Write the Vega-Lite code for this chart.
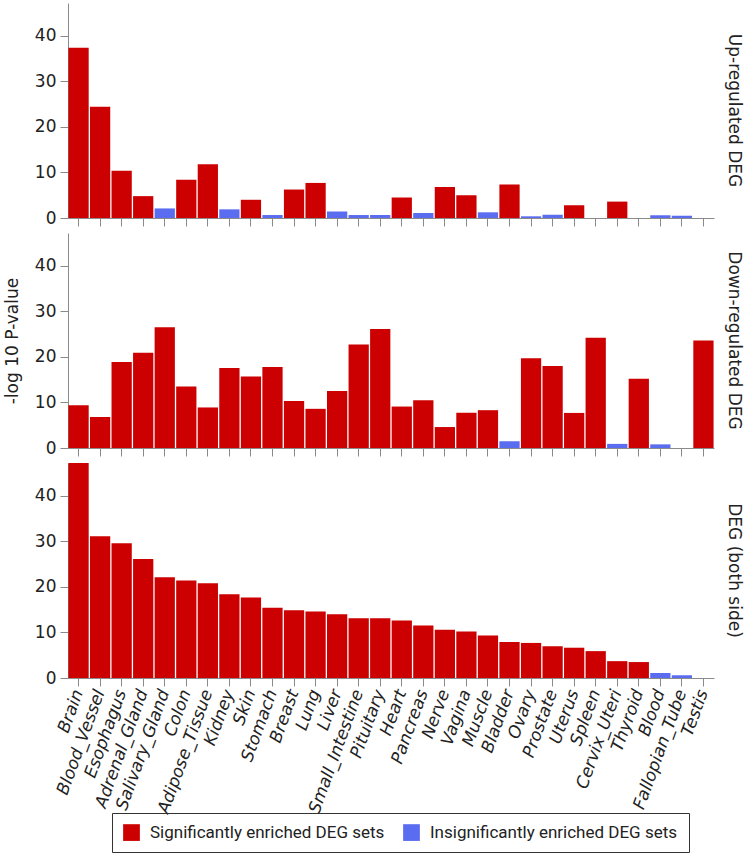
{
  "$schema": "https://vega.github.io/schema/vega-lite/v6.json",
  "padding": {"left": 3, "top": 3, "right": 4, "bottom": 2},
  "datasets": {
    "deg": [
      {"panel": "Up-regulated DEG", "tissue": "Brain", "value": 37.4, "enrichment": "sig"},
      {"panel": "Up-regulated DEG", "tissue": "Blood_Vessel", "value": 24.4, "enrichment": "sig"},
      {"panel": "Up-regulated DEG", "tissue": "Esophagus", "value": 10.4, "enrichment": "sig"},
      {"panel": "Up-regulated DEG", "tissue": "Adrenal_Gland", "value": 4.8, "enrichment": "sig"},
      {"panel": "Up-regulated DEG", "tissue": "Salivary_Gland", "value": 2.1, "enrichment": "insig"},
      {"panel": "Up-regulated DEG", "tissue": "Colon", "value": 8.4, "enrichment": "sig"},
      {"panel": "Up-regulated DEG", "tissue": "Adipose_Tissue", "value": 11.8, "enrichment": "sig"},
      {"panel": "Up-regulated DEG", "tissue": "Kidney", "value": 1.9, "enrichment": "insig"},
      {"panel": "Up-regulated DEG", "tissue": "Skin", "value": 4.0, "enrichment": "sig"},
      {"panel": "Up-regulated DEG", "tissue": "Stomach", "value": 0.65, "enrichment": "insig"},
      {"panel": "Up-regulated DEG", "tissue": "Breast", "value": 6.25, "enrichment": "sig"},
      {"panel": "Up-regulated DEG", "tissue": "Lung", "value": 7.7, "enrichment": "sig"},
      {"panel": "Up-regulated DEG", "tissue": "Liver", "value": 1.4, "enrichment": "insig"},
      {"panel": "Up-regulated DEG", "tissue": "Small_Intestine", "value": 0.65, "enrichment": "insig"},
      {"panel": "Up-regulated DEG", "tissue": "Pituitary", "value": 0.65, "enrichment": "insig"},
      {"panel": "Up-regulated DEG", "tissue": "Heart", "value": 4.5, "enrichment": "sig"},
      {"panel": "Up-regulated DEG", "tissue": "Pancreas", "value": 1.1, "enrichment": "insig"},
      {"panel": "Up-regulated DEG", "tissue": "Nerve", "value": 6.8, "enrichment": "sig"},
      {"panel": "Up-regulated DEG", "tissue": "Vagina", "value": 5.0, "enrichment": "sig"},
      {"panel": "Up-regulated DEG", "tissue": "Muscle", "value": 1.25, "enrichment": "insig"},
      {"panel": "Up-regulated DEG", "tissue": "Bladder", "value": 7.35, "enrichment": "sig"},
      {"panel": "Up-regulated DEG", "tissue": "Ovary", "value": 0.37, "enrichment": "insig"},
      {"panel": "Up-regulated DEG", "tissue": "Prostate", "value": 0.74, "enrichment": "insig"},
      {"panel": "Up-regulated DEG", "tissue": "Uterus", "value": 2.8, "enrichment": "sig"},
      {"panel": "Up-regulated DEG", "tissue": "Spleen", "value": 0, "enrichment": "insig"},
      {"panel": "Up-regulated DEG", "tissue": "Cervix_Uteri", "value": 3.6, "enrichment": "sig"},
      {"panel": "Up-regulated DEG", "tissue": "Thyroid", "value": 0, "enrichment": "insig"},
      {"panel": "Up-regulated DEG", "tissue": "Blood", "value": 0.6, "enrichment": "insig"},
      {"panel": "Up-regulated DEG", "tissue": "Fallopian_Tube", "value": 0.5, "enrichment": "insig"},
      {"panel": "Up-regulated DEG", "tissue": "Testis", "value": 0, "enrichment": "insig"},

      {"panel": "Down-regulated DEG", "tissue": "Brain", "value": 9.4, "enrichment": "sig"},
      {"panel": "Down-regulated DEG", "tissue": "Blood_Vessel", "value": 6.8, "enrichment": "sig"},
      {"panel": "Down-regulated DEG", "tissue": "Esophagus", "value": 18.9, "enrichment": "sig"},
      {"panel": "Down-regulated DEG", "tissue": "Adrenal_Gland", "value": 20.9, "enrichment": "sig"},
      {"panel": "Down-regulated DEG", "tissue": "Salivary_Gland", "value": 26.5, "enrichment": "sig"},
      {"panel": "Down-regulated DEG", "tissue": "Colon", "value": 13.5, "enrichment": "sig"},
      {"panel": "Down-regulated DEG", "tissue": "Adipose_Tissue", "value": 8.9, "enrichment": "sig"},
      {"panel": "Down-regulated DEG", "tissue": "Kidney", "value": 17.55, "enrichment": "sig"},
      {"panel": "Down-regulated DEG", "tissue": "Skin", "value": 15.7, "enrichment": "sig"},
      {"panel": "Down-regulated DEG", "tissue": "Stomach", "value": 17.8, "enrichment": "sig"},
      {"panel": "Down-regulated DEG", "tissue": "Breast", "value": 10.3, "enrichment": "sig"},
      {"panel": "Down-regulated DEG", "tissue": "Lung", "value": 8.6, "enrichment": "sig"},
      {"panel": "Down-regulated DEG", "tissue": "Liver", "value": 12.5, "enrichment": "sig"},
      {"panel": "Down-regulated DEG", "tissue": "Small_Intestine", "value": 22.7, "enrichment": "sig"},
      {"panel": "Down-regulated DEG", "tissue": "Pituitary", "value": 26.1, "enrichment": "sig"},
      {"panel": "Down-regulated DEG", "tissue": "Heart", "value": 9.1, "enrichment": "sig"},
      {"panel": "Down-regulated DEG", "tissue": "Pancreas", "value": 10.5, "enrichment": "sig"},
      {"panel": "Down-regulated DEG", "tissue": "Nerve", "value": 4.6, "enrichment": "sig"},
      {"panel": "Down-regulated DEG", "tissue": "Vagina", "value": 7.75, "enrichment": "sig"},
      {"panel": "Down-regulated DEG", "tissue": "Muscle", "value": 8.3, "enrichment": "sig"},
      {"panel": "Down-regulated DEG", "tissue": "Bladder", "value": 1.5, "enrichment": "insig"},
      {"panel": "Down-regulated DEG", "tissue": "Ovary", "value": 19.7, "enrichment": "sig"},
      {"panel": "Down-regulated DEG", "tissue": "Prostate", "value": 18.0, "enrichment": "sig"},
      {"panel": "Down-regulated DEG", "tissue": "Uterus", "value": 7.7, "enrichment": "sig"},
      {"panel": "Down-regulated DEG", "tissue": "Spleen", "value": 24.2, "enrichment": "sig"},
      {"panel": "Down-regulated DEG", "tissue": "Cervix_Uteri", "value": 0.9, "enrichment": "insig"},
      {"panel": "Down-regulated DEG", "tissue": "Thyroid", "value": 15.2, "enrichment": "sig"},
      {"panel": "Down-regulated DEG", "tissue": "Blood", "value": 0.8, "enrichment": "insig"},
      {"panel": "Down-regulated DEG", "tissue": "Fallopian_Tube", "value": 0, "enrichment": "insig"},
      {"panel": "Down-regulated DEG", "tissue": "Testis", "value": 23.6, "enrichment": "sig"},

      {"panel": "DEG (both side)", "tissue": "Brain", "value": 47.2, "enrichment": "sig"},
      {"panel": "DEG (both side)", "tissue": "Blood_Vessel", "value": 31.1, "enrichment": "sig"},
      {"panel": "DEG (both side)", "tissue": "Esophagus", "value": 29.6, "enrichment": "sig"},
      {"panel": "DEG (both side)", "tissue": "Adrenal_Gland", "value": 26.1, "enrichment": "sig"},
      {"panel": "DEG (both side)", "tissue": "Salivary_Gland", "value": 22.1, "enrichment": "sig"},
      {"panel": "DEG (both side)", "tissue": "Colon", "value": 21.4, "enrichment": "sig"},
      {"panel": "DEG (both side)", "tissue": "Adipose_Tissue", "value": 20.8, "enrichment": "sig"},
      {"panel": "DEG (both side)", "tissue": "Kidney", "value": 18.4, "enrichment": "sig"},
      {"panel": "DEG (both side)", "tissue": "Skin", "value": 17.7, "enrichment": "sig"},
      {"panel": "DEG (both side)", "tissue": "Stomach", "value": 15.4, "enrichment": "sig"},
      {"panel": "DEG (both side)", "tissue": "Breast", "value": 14.9, "enrichment": "sig"},
      {"panel": "DEG (both side)", "tissue": "Lung", "value": 14.6, "enrichment": "sig"},
      {"panel": "DEG (both side)", "tissue": "Liver", "value": 14.0, "enrichment": "sig"},
      {"panel": "DEG (both side)", "tissue": "Small_Intestine", "value": 13.1, "enrichment": "sig"},
      {"panel": "DEG (both side)", "tissue": "Pituitary", "value": 13.1, "enrichment": "sig"},
      {"panel": "DEG (both side)", "tissue": "Heart", "value": 12.65, "enrichment": "sig"},
      {"panel": "DEG (both side)", "tissue": "Pancreas", "value": 11.55, "enrichment": "sig"},
      {"panel": "DEG (both side)", "tissue": "Nerve", "value": 10.6, "enrichment": "sig"},
      {"panel": "DEG (both side)", "tissue": "Vagina", "value": 10.2, "enrichment": "sig"},
      {"panel": "DEG (both side)", "tissue": "Muscle", "value": 9.35, "enrichment": "sig"},
      {"panel": "DEG (both side)", "tissue": "Bladder", "value": 7.9, "enrichment": "sig"},
      {"panel": "DEG (both side)", "tissue": "Ovary", "value": 7.7, "enrichment": "sig"},
      {"panel": "DEG (both side)", "tissue": "Prostate", "value": 6.95, "enrichment": "sig"},
      {"panel": "DEG (both side)", "tissue": "Uterus", "value": 6.65, "enrichment": "sig"},
      {"panel": "DEG (both side)", "tissue": "Spleen", "value": 5.9, "enrichment": "sig"},
      {"panel": "DEG (both side)", "tissue": "Cervix_Uteri", "value": 3.7, "enrichment": "sig"},
      {"panel": "DEG (both side)", "tissue": "Thyroid", "value": 3.5, "enrichment": "sig"},
      {"panel": "DEG (both side)", "tissue": "Blood", "value": 1.1, "enrichment": "insig"},
      {"panel": "DEG (both side)", "tissue": "Fallopian_Tube", "value": 0.6, "enrichment": "insig"},
      {"panel": "DEG (both side)", "tissue": "Testis", "value": 0, "enrichment": "insig"}
    ]
  },
  "data": {"name": "deg"},
  "spacing": 6,
  "config": {
    "view": {"stroke": null},
    "font": "DejaVu Sans",
    "axis": {
      "domainColor": "#8a8a8a",
      "tickColor": "#8a8a8a",
      "tickSize": 8,
      "labelColor": "#222222",
      "labelFont": "DejaVu Sans",
      "labelFontSize": 17,
      "grid": false
    },
    "header": {
      "labelOrient": "right",
      "labelAngle": 90,
      "labelFont": "DejaVu Sans",
      "labelFontSize": 17,
      "labelColor": "#222222",
      "labelPadding": 11
    },
    "legend": {
      "title": null,
      "orient": "none",
      "legendX": 44,
      "legendY": 810,
      "direction": "horizontal",
      "symbolType": "square",
      "symbolSize": 280,
      "symbolStrokeWidth": 0,
      "labelFont": "Roboto",
      "labelFontSize": 17,
      "labelColor": "#222222",
      "labelLimit": 400,
      "labelOffset": 10,
      "columnPadding": 18,
      "padding": 11,
      "strokeColor": "#333333"
    }
  },
  "vconcat": [
    {
      "transform": [{"filter": "datum.panel === 'Up-regulated DEG'"}],
      "facet": {"row": {"field": "panel", "type": "nominal", "title": null}},
      "spec": {
        "width": 646,
        "height": 215,
        "mark": {"type": "bar"},
        "encoding": {
          "x": {"field": "tissue", "type": "nominal", "sort": null,
                "scale": {"paddingInner": 0.06, "paddingOuter": 0.02},
                "axis": {"labels": false, "title": null}},
          "y": {"field": "value", "type": "quantitative",
                "scale": {"domain": [0, 47.2], "nice": false},
                "axis": {"values": [0, 10, 20, 30, 40], "title": null, "labelPadding": 4}},
          "color": {"field": "enrichment", "type": "nominal",
                    "scale": {"domain": ["sig", "insig"], "range": ["#cc0000", "#5a6cf0"]},
                    "legend": {"labelExpr": "datum.value === 'sig' ? 'Significantly enriched DEG sets' : 'Insignificantly enriched DEG sets'"}}
        }
      }
    },
    {
      "transform": [{"filter": "datum.panel === 'Down-regulated DEG'"}],
      "facet": {"row": {"field": "panel", "type": "nominal", "title": null}},
      "spec": {
        "width": 646,
        "height": 215,
        "mark": {"type": "bar"},
        "encoding": {
          "x": {"field": "tissue", "type": "nominal", "sort": null,
                "scale": {"paddingInner": 0.06, "paddingOuter": 0.02},
                "axis": {"labels": false, "title": null}},
          "y": {"field": "value", "type": "quantitative",
                "scale": {"domain": [0, 47.2], "nice": false},
                "axis": {"values": [0, 10, 20, 30, 40], "title": "-log 10 P-value",
                         "titleFont": "DejaVu Sans", "titleFontSize": 17, "titleFontWeight": "normal",
                         "titleColor": "#222222", "titlePadding": 13, "labelPadding": 4}},
          "color": {"field": "enrichment", "type": "nominal",
                    "scale": {"domain": ["sig", "insig"], "range": ["#cc0000", "#5a6cf0"]},
                    "legend": {"labelExpr": "datum.value === 'sig' ? 'Significantly enriched DEG sets' : 'Insignificantly enriched DEG sets'"}}
        }
      }
    },
    {
      "transform": [{"filter": "datum.panel === 'DEG (both side)'"}],
      "facet": {"row": {"field": "panel", "type": "nominal", "title": null}},
      "spec": {
        "width": 646,
        "height": 215,
        "mark": {"type": "bar"},
        "encoding": {
          "x": {"field": "tissue", "type": "nominal", "sort": null,
                "scale": {"paddingInner": 0.06, "paddingOuter": 0.02},
                "axis": {"title": null, "labelAngle": -70, "labelFontStyle": "italic", "labelFontSize": 17, "labelPadding": 4}},
          "y": {"field": "value", "type": "quantitative",
                "scale": {"domain": [0, 47.2], "nice": false},
                "axis": {"values": [0, 10, 20, 30, 40], "title": null, "labelPadding": 4}},
          "color": {"field": "enrichment", "type": "nominal",
                    "scale": {"domain": ["sig", "insig"], "range": ["#cc0000", "#5a6cf0"]},
                    "legend": {"labelExpr": "datum.value === 'sig' ? 'Significantly enriched DEG sets' : 'Insignificantly enriched DEG sets'"}}
        }
      }
    }
  ]
}
